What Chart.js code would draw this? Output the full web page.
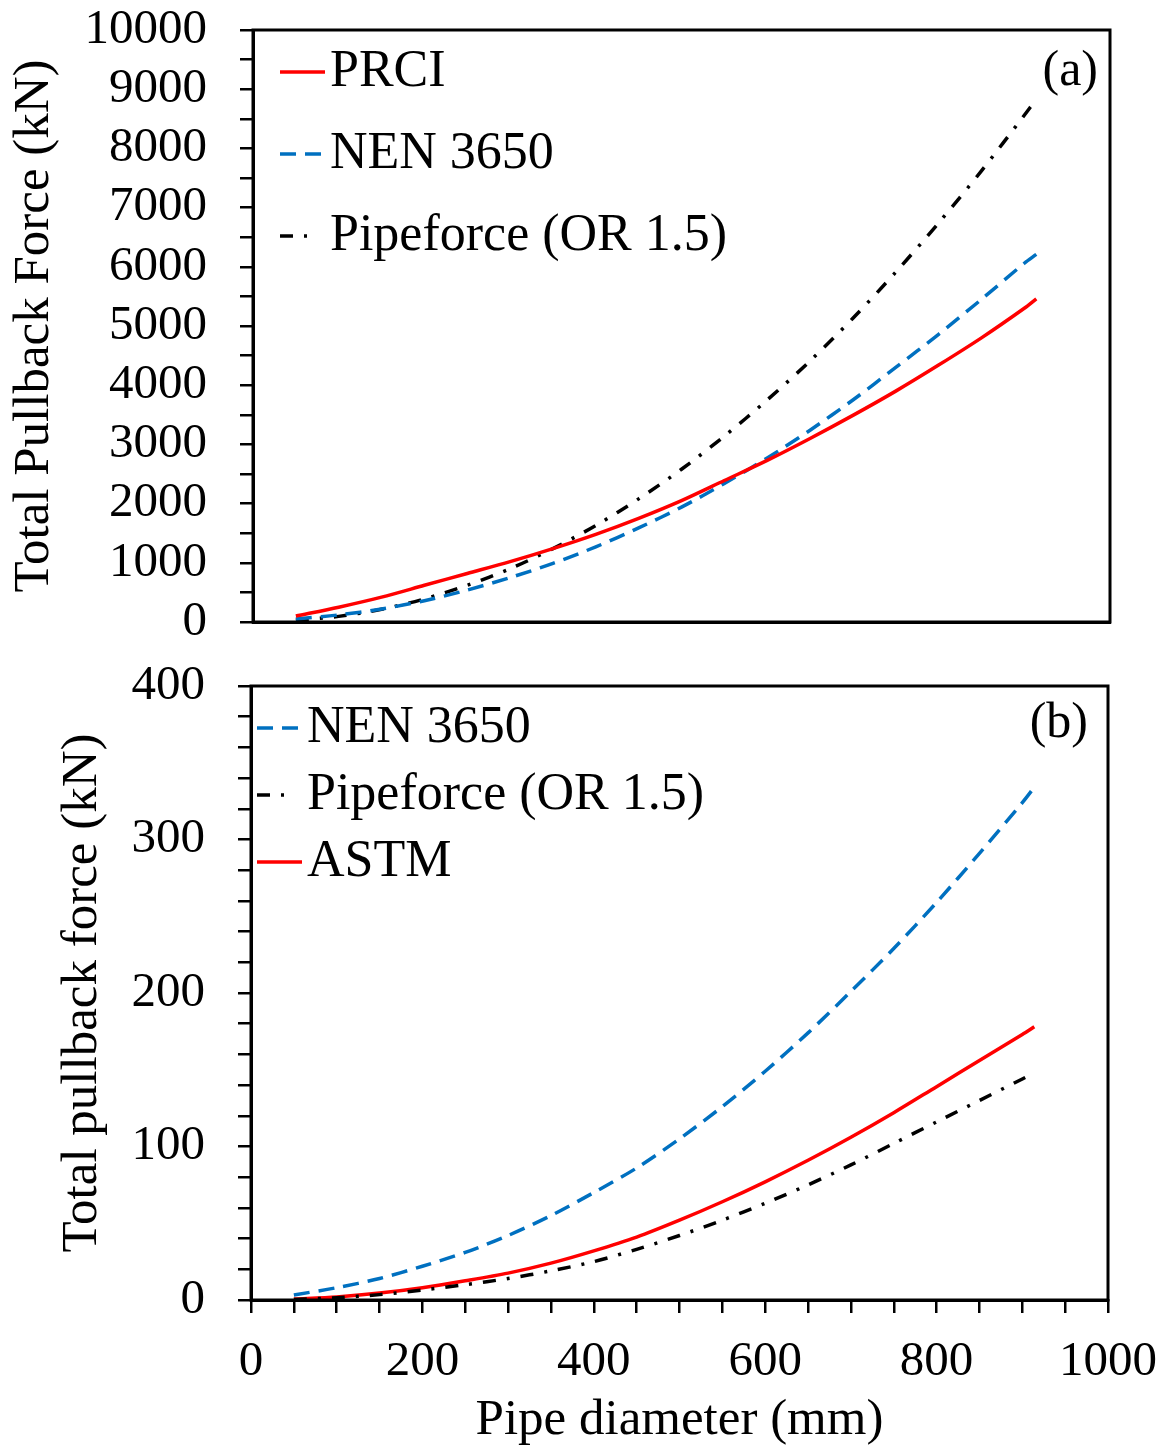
<!DOCTYPE html>
<html>
<head>
<meta charset="utf-8">
<title>Total pullback force vs pipe diameter</title>
<script src="https://cdn.jsdelivr.net/npm/chart.js"></script>
<style>
  html, body { margin: 0; padding: 0; background: #fff; }
  body { width: 1169px; height: 1452px; position: relative; overflow: hidden; }
  canvas { position: absolute; left: 0; }
  #chartA { top: -60px; }
  #chartB { top: 600px; }
</style>
</head>
<body>
<canvas id="chartA" width="1200" height="760"></canvas>
<canvas id="chartB" width="1200" height="852"></canvas>
<script>
// pipe diameters (mm)
const diameters = [50, 100, 150, 200, 250, 300, 350, 400, 450, 500, 550, 600, 650, 700, 750, 800, 850, 900, 914];

// panel (a) - kN
const prciA = [100, 250, 420, 620, 820, 1020, 1240, 1480, 1750, 2050, 2390, 2730, 3100, 3490, 3900, 4340, 4800, 5300, 5460];
const nenA = [50, 120, 220, 360, 540, 750, 990, 1270, 1590, 1940, 2340, 2770, 3240, 3750, 4300, 4860, 5450, 6060, 6210];
const pipeforceA = [30, 95, 215, 390, 620, 900, 1240, 1630, 2080, 2580, 3140, 3750, 4410, 5130, 5910, 6740, 7620, 8560, 8830];

// panel (b) - kN
const nenB = [3.3, 8, 14, 22, 31, 42, 55, 70, 86, 105, 126, 149, 174, 201, 229, 259, 291, 324, 334];
const pipeforceB = [0.4, 1.5, 3.5, 6.5, 10, 14, 19, 25, 33, 42, 52, 63, 75, 88, 102, 116, 130, 144, 148];
const astmB = [0.6, 2, 4.5, 8, 12.5, 17.5, 24, 32, 41, 52, 64, 77, 91, 106, 122, 139, 156, 173, 178];

const SERIF = "'Liberation Serif', 'Times New Roman', serif";
Chart.defaults.font.family = SERIF;
Chart.defaults.color = '#000';

function pts(ys) {
    return diameters.map((d, i) => ({ x: d, y: ys[i] }));
}

function line(label, ys, color, dash) {
    return {
        label: label,
        data: pts(ys),
        borderColor: color,
        backgroundColor: color,
        borderWidth: 3.5,
        borderDash: dash,
        pointRadius: 0,
        fill: false,
        tension: 0.3
    };
}

const RED = '#FF0000', BLUE = '#0070C0', BLACK = '#000000';
const DASH = [16, 9];
const DASHDOT = [13, 11, 3, 11];

// small dashed sample used as the legend point style
function legendSample(color, dash) {
    const c = document.createElement('canvas');
    c.width = 52;
    c.height = 8;
    const g = c.getContext('2d');
    g.strokeStyle = color;
    g.lineWidth = 3.5;
    g.setLineDash(dash || []);
    g.beginPath();
    g.moveTo(7, 4);
    g.lineTo(dash && dash.length === 4 ? 45 : 52, 4);
    g.stroke();
    return c;
}

// frame round the plot, "(a)"/"(b)" tag, legend moved inside the plot
const frameAndTag = {
    id: 'frameAndTag',
    afterLayout(chart, args, opts) {
        const a = chart.chartArea, lg = chart.legend;
        lg.left = a.left + opts.legendDx;
        lg.top = a.top + opts.legendDy;
        lg.right = a.right;
        lg.bottom = a.bottom;
    },
    afterDraw(chart, args, opts) {
        const a = chart.chartArea, ctx = chart.ctx;
        ctx.save();
        ctx.strokeStyle = '#000';
        ctx.lineWidth = 3;
        ctx.strokeRect(a.left, a.top, a.right - a.left, a.bottom - a.top);
        ctx.font = '50px ' + SERIF;
        ctx.fillStyle = '#000';
        ctx.textAlign = 'right';
        ctx.textBaseline = 'middle';
        ctx.fillText(opts.tag, a.right - opts.tagDx, a.top + opts.tagDy);
        ctx.restore();
    }
};

function legendOpts(padding) {
    return {
        position: 'chartArea',
        align: 'start',
        labels: {
            font: { size: 52, family: SERIF },
            color: '#000',
            usePointStyle: true,
            boxWidth: 10,
            boxHeight: 10,
            padding: padding,
            generateLabels: function(chart) {
                const items = Chart.defaults.plugins.legend.labels.generateLabels(chart);
                items.forEach(it => {
                    const ds = chart.data.datasets[it.datasetIndex];
                    it.pointStyle = legendSample(ds.borderColor, ds.borderDash);
                });
                return items;
            }
        }
    };
}

const tickGrid = { drawOnChartArea: false, drawTicks: true, tickLength: 13, color: '#000', lineWidth: 2.5 };
const axisBorder = { display: true, color: '#000', width: 3 };

// (a)
new Chart(document.getElementById('chartA').getContext('2d'), {
    type: 'line',
    data: {
        datasets: [
            line('PRCI', prciA, RED, []),
            line('NEN 3650', nenA, BLUE, DASH),
            line('Pipeforce (OR 1.5)', pipeforceA, BLACK, DASHDOT)
        ]
    },
    options: {
        responsive: false,
        devicePixelRatio: 1,
        animation: false,
        layout: { padding: { top: 90, left: 0, right: 90, bottom: 0 } },
        scales: {
            x: {
                type: 'linear', min: 0, max: 1000,
                ticks: { display: false },
                grid: { display: false },
                border: axisBorder,
                afterFit: s => { s.height = 78; }
            },
            y: {
                min: 0, max: 10000,
                ticks: {
                    stepSize: 500, autoSkip: false, padding: 33,
                    font: { size: 49 }, color: '#000',
                    callback: v => (v % 1000 === 0 ? v : '')
                },
                grid: tickGrid,
                border: axisBorder,
                title: {
                    display: true, text: 'Total Pullback Force (kN)',
                    font: { size: 51 }, color: '#000', padding: { top: 4, bottom: 0 }
                },
                afterFit: s => { s.width = 253; }
            }
        },
        plugins: {
            legend: legendOpts(30),
            tooltip: { enabled: false },
            frameAndTag: { tag: '(a)', tagDx: 12, tagDy: 42, legendDx: 11, legendDy: -14 }
        }
    },
    plugins: [frameAndTag]
});

// (b)
new Chart(document.getElementById('chartB').getContext('2d'), {
    type: 'line',
    data: {
        datasets: [
            line('NEN 3650', nenB, BLUE, DASH),
            line('Pipeforce (OR 1.5)', pipeforceB, BLACK, DASHDOT),
            line('ASTM', astmB, RED, [])
        ]
    },
    options: {
        responsive: false,
        devicePixelRatio: 1,
        animation: false,
        layout: { padding: { top: 86, left: 0, right: 92, bottom: 0 } },
        scales: {
            x: {
                type: 'linear', min: 0, max: 1000,
                ticks: {
                    stepSize: 50, autoSkip: false, maxRotation: 0, padding: 20,
                    font: { size: 49 }, color: '#000',
                    callback: v => (v % 200 === 0 ? v : '')
                },
                grid: tickGrid,
                border: axisBorder,
                title: {
                    display: true, text: 'Pipe diameter (mm)',
                    font: { size: 51 }, color: '#000', padding: { top: 0, bottom: 1 }
                },
                afterFit: s => { s.height = 152; }
            },
            y: {
                min: 0, max: 400,
                ticks: {
                    stepSize: 20, autoSkip: false, padding: 33,
                    font: { size: 49 }, color: '#000',
                    callback: v => (v % 100 === 0 ? v : '')
                },
                grid: tickGrid,
                border: axisBorder,
                title: {
                    display: true, text: 'Total pullback force (kN)',
                    font: { size: 51 }, color: '#000', padding: { top: 52, bottom: 0 }
                },
                afterFit: s => { s.width = 251; }
            }
        },
        plugins: {
            legend: legendOpts(15),
            tooltip: { enabled: false },
            frameAndTag: { tag: '(b)', tagDx: 20, tagDy: 38, legendDx: 5, legendDy: 1 }
        }
    },
    plugins: [frameAndTag]
});
</script>
</body>
</html>
